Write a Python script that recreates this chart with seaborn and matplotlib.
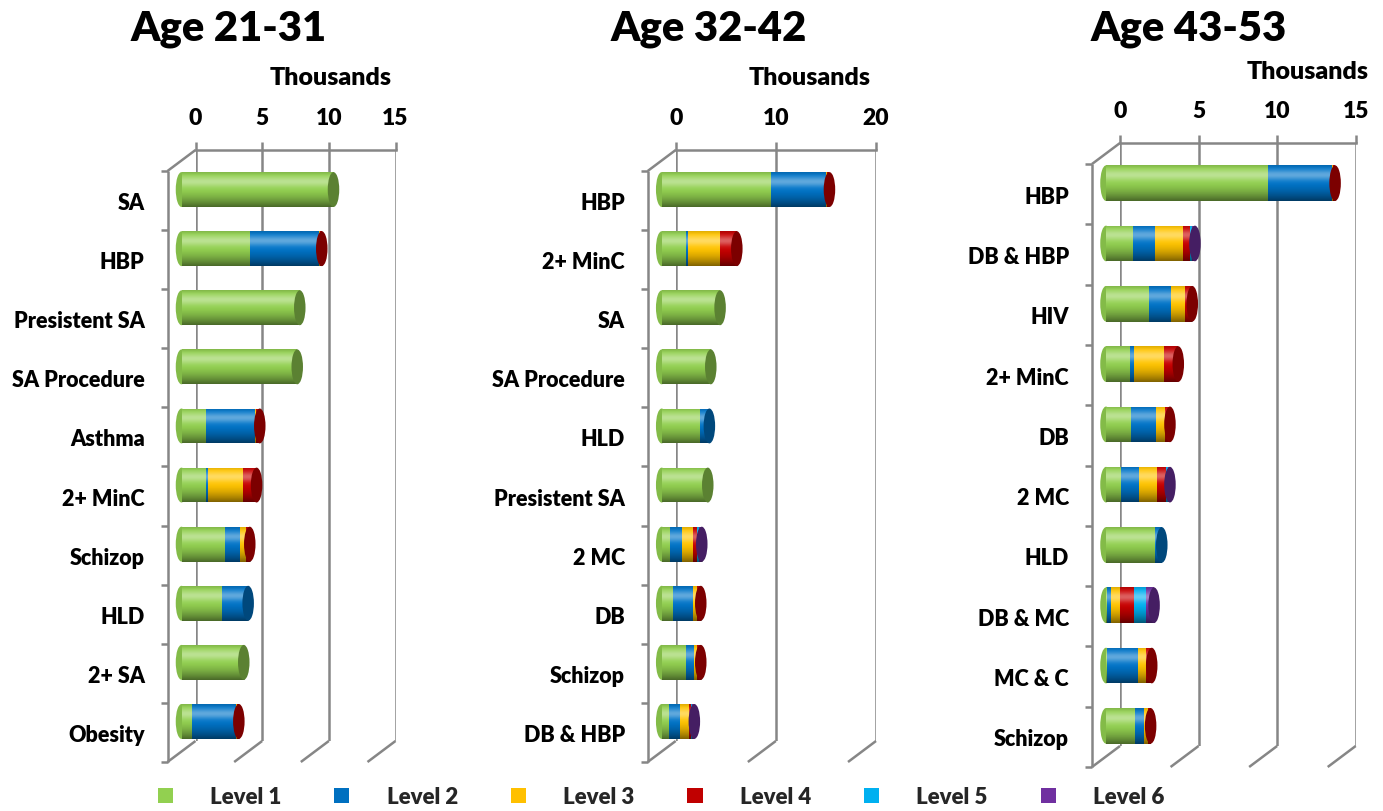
import numpy as np
import pandas as pd
import matplotlib
matplotlib.use("Agg")
import matplotlib.pyplot as plt
import seaborn as sns
from matplotlib.transforms import ScaledTranslation, IdentityTransform
from matplotlib.patches import Ellipse, Rectangle, Patch
from matplotlib.lines import Line2D
import matplotlib.colors as mcolors

# ---------------- data (thousands) ----------------
levels = ["Level 1", "Level 2", "Level 3", "Level 4", "Level 5", "Level 6"]
level_colors = ["#92D050", "#0074C8", "#FFC400", "#C80000", "#00B0F0", "#7030A0"]
titles = ["Age 21-31", "Age 32-42", "Age 43-53"]

cats_a = ["SA", "HBP", "Presistent SA", "SA Procedure", "Asthma", "2+ MinC",
          "Schizop", "HLD", "2+ SA", "Obesity"]
l1_a = [11.4, 5.13, 8.87, 8.68, 1.87, 1.87, 3.25, 3.0, 4.67, 0.75]
l2_a = [0, 5.17, 0, 0, 3.63, 0.13, 1.17, 2.0, 0, 3.33]
l3_a = [0, 0.12, 0, 0, 0.12, 2.63, 0.45, 0, 0, 0.05]
l4_a = [0, 0.10, 0, 0, 0.25, 1.0, 0.25, 0, 0, 0.17]
l5_a = [0, 0, 0, 0, 0, 0, 0, 0, 0, 0]
l6_a = [0, 0, 0, 0, 0, 0, 0, 0, 0, 0]

cats_b = ["HBP", "2+ MinC", "SA", "SA Procedure", "HLD", "Presistent SA",
          "2 MC", "DB", "Schizop", "DB & HBP"]
l1_b = [10.95, 2.4, 5.83, 4.9, 3.8, 4.6, 0.8, 1.13, 2.4, 0.73]
l2_b = [5.5, 0.26, 0, 0, 0.96, 0, 1.26, 2.0, 0.83, 1.13]
l3_b = [0.1, 3.2, 0, 0, 0, 0, 1.07, 0.43, 0.33, 0.84]
l4_b = [0.2, 1.64, 0, 0, 0, 0, 0.43, 0.34, 0.34, 0.2]
l5_b = [0, 0, 0, 0, 0, 0, 0.17, 0, 0, 0.13]
l6_b = [0, 0, 0, 0, 0, 0, 0.27, 0, 0, 0.23]

cats_c = ["HBP", "DB & HBP", "HIV", "2+ MinC", "DB", "2 MC", "HLD",
          "DB & MC", "MC & C", "Schizop"]
l1_c = [10.28, 1.73, 2.73, 1.52, 1.62, 0.98, 3.11, 0.08, 0.08, 1.84]
l2_c = [4.11, 1.38, 1.4, 0.25, 1.59, 1.11, 0.44, 0.23, 1.97, 0.59]
l3_c = [0.08, 1.76, 0.89, 1.93, 0.57, 1.18, 0, 0.61, 0.52, 0.25]
l4_c = [0.11, 0.47, 0.47, 0.9, 0.29, 0.58, 0, 0.85, 0.34, 0.16]
l5_c = [0, 0.14, 0, 0, 0, 0.11, 0, 0.8, 0, 0]
l6_c = [0, 0.18, 0, 0, 0, 0.11, 0, 0.49, 0, 0]

xticks_a = [0, 5, 10, 15]
xticks_b = [0, 10, 20]
xticks_c = [0, 5, 10, 15]

panels = [
    (cats_a, [l1_a, l2_a, l3_a, l4_a, l5_a, l6_a], xticks_a),
    (cats_b, [l1_b, l2_b, l3_b, l4_b, l5_b, l6_b], xticks_b),
    (cats_c, [l1_c, l2_c, l3_c, l4_c, l5_c, l6_c], xticks_c),
]

# ---------------- layout (pixels) ----------------
W, H = 1383, 812
DPI = 100
geom = [
    dict(x0=195.5, x1=395.5, top=151, bottom=742, tcx=229, thx=331, thy=85),
    dict(x0=675.7, x1=876.0, top=151, bottom=742, tcx=709, thx=810, thy=85),
    dict(x0=1120.0, x1=1355.7, top=144, bottom=747, tcx=1189, thx=1308, thy=79),
]
BAR_DX, BAR_DY = -14, -10      # bar plane offset (px, display y up)
FR_DX, FR_DY = -28, -21        # front plane offset
GRAY = "#868686"
LW = 1.8
BAR_H = 0.59
WEIGHT = "heavy"

sns.set_theme(style="white")
plt.rcParams["font.family"] = ["Lato", "DejaVu Sans"]
plt.rcParams["font.weight"] = WEIGHT

fig = plt.figure(figsize=(W / DPI, H / DPI), dpi=DPI)


def darker(c, f):
    r, g, b = mcolors.to_rgb(c)
    return (r * f, g * f, b * f)


# shading gradient (top -> bottom)
n = 64
t = np.linspace(0, 1, n)
wa = 0.38 * np.exp(-((t - 0.27) / 0.15) ** 2)
ba = 0.5 * np.clip((t - 0.45) / 0.55, 0, 1) ** 1.6 + 0.12 * np.clip((0.1 - t) / 0.1, 0, 1)
alpha = wa + ba - wa * ba
col = np.where(alpha > 0, wa / np.maximum(wa + ba, 1e-9), 0)
grad = np.zeros((n, 1, 4))
grad[:, 0, 0] = col
grad[:, 0, 1] = col
grad[:, 0, 2] = col
grad[:, 0, 3] = alpha

for pi, (cats, vals, xticks) in enumerate(panels):
    g = geom[pi]
    ax = fig.add_axes([g["x0"] / W, 1 - g["bottom"] / H,
                       (g["x1"] - g["x0"]) / W, (g["bottom"] - g["top"]) / H])
    xmax = xticks[-1]
    ncat = len(cats)
    px_per = (g["x1"] - g["x0"]) / xmax

    df = pd.DataFrame({"cat": cats})
    for lv, v in zip(levels, vals):
        df[lv] = v
    cum = df[levels].cumsum(axis=1)
    totals = cum[levels[-1]].values

    bar_tr = ax.transData + ScaledTranslation(BAR_DX / DPI, BAR_DY / DPI, fig.dpi_scale_trans)

    # left rounded ends
    cap_w = 11.5 / px_per
    for i in range(ncat):
        first = next(k for k in range(6) if vals[k][i] > 0)
        e = Ellipse((0, i), cap_w, BAR_H, facecolor=darker(level_colors[first], 0.9),
                    edgecolor="none", transform=bar_tr, zorder=2, clip_on=False)
        ax.add_patch(e)

    # stacked cylinders: draw cumulative sums from the last level down
    for k in reversed(range(6)):
        before = len(ax.patches)
        sns.barplot(x=cum[levels[k]].values, y=cats, orient="h", color=level_colors[k],
                    saturation=1, width=BAR_H, ax=ax, linewidth=0, edgecolor="none")
        for p in ax.patches[before:]:
            p.set_transform(bar_tr)
            p.set_clip_on(False)
            p.set_zorder(3)

    # shading + end caps
    for i in range(ncat):
        clip = Rectangle((0, i - BAR_H / 2), totals[i], BAR_H, transform=bar_tr,
                         facecolor="none", edgecolor="none")
        ax.add_patch(clip)
        im = ax.imshow(grad, extent=(0, totals[i], i + BAR_H / 2, i - BAR_H / 2),
                       aspect="auto", interpolation="bilinear", zorder=4)
        im.set_transform(bar_tr)
        im.set_clip_path(clip)
        last = max(k for k in range(6) if vals[k][i] > 0)
        cap = Ellipse((totals[i], i), cap_w, BAR_H,
                      facecolor=darker(level_colors[last], 0.62), edgecolor="none",
                      transform=bar_tr, zorder=5, clip_on=False)
        ax.add_patch(cap)

    ax.set_xlim(0, xmax)
    ax.set_ylim(ncat - 0.5, -0.5)
    ax.set_xlabel("")
    ax.set_ylabel("")

    # back wall: gridlines + top edge
    ax.set_xticks(xticks)
    ax.set_xticklabels([str(v) for v in xticks])
    ax.xaxis.tick_top()
    ax.grid(axis="x", color=GRAY, linewidth=LW)
    ax.grid(axis="y", visible=False)
    ax.set_axisbelow(True)
    for s in ["left", "right", "bottom"]:
        ax.spines[s].set_visible(False)
    ax.spines["top"].set_color(GRAY)
    ax.spines["top"].set_linewidth(LW)
    ax.tick_params(axis="x", length=6, width=LW, color=GRAY, pad=9.5,
                   labelsize=16.5, labelcolor="black")
    ax.set_facecolor("none")

    # category labels on the front plane
    ax.set_yticks(range(ncat))
    ax.set_yticklabels(cats)
    ax.tick_params(axis="y", length=0, pad=16.5, labelsize=15.5, labelcolor="black")
    for lbl in ax.get_yticklabels():
        lbl.set_fontweight(WEIGHT)
        lbl.set_transform(lbl.get_transform() +
                          ScaledTranslation(FR_DX / DPI, FR_DY / DPI, fig.dpi_scale_trans))
    for lbl in ax.get_xticklabels():
        lbl.set_fontweight(WEIGHT)

    # floor diagonals, left wall
    def disp(x, y):
        return ax.transData.transform((x, y))

    lines = []
    for v in range(0, xmax + 1, xticks[1] - xticks[0]):
        p = disp(v, ncat - 0.5)
        lines.append(([p[0], p[0] + FR_DX], [p[1], p[1] + FR_DY]))
    ptop = disp(0, -0.5)
    pbot = disp(0, ncat - 0.5)
    lines.append(([ptop[0], ptop[0] + FR_DX], [ptop[1], ptop[1] + FR_DY]))
    lines.append(([ptop[0] + FR_DX, pbot[0] + FR_DX], [ptop[1] + FR_DY, pbot[1] + FR_DY]))
    for i in range(ncat + 1):
        q = disp(0, i - 0.5)
        lines.append(([q[0] + FR_DX, q[0] + FR_DX - 7], [q[1] + FR_DY, q[1] + FR_DY]))
    for xs, ys in lines:
        fig.add_artist(Line2D(xs, ys, color=GRAY, linewidth=LW,
                              transform=IdentityTransform(), solid_capstyle="butt"))

    # titles
    fig.text(g["tcx"] / W, 1 - 41 / H, titles[pi], ha="center", va="baseline",
             fontsize=30, fontweight=WEIGHT, color="black")
    fig.text(g["thx"] / W, 1 - g["thy"] / H, "Thousands", ha="center", va="baseline",
             fontsize=18, fontweight=WEIGHT, color="black")

handles = [Patch(facecolor=c, edgecolor="none") for c in
           ["#92D050", "#0070C0", "#FFC000", "#C00000", "#00B0F0", "#7030A0"]]
fig.legend(handles, levels, loc="center", bbox_to_anchor=(661 / W, 1 - 798 / H),
           ncol=6, frameon=False, prop={"weight": WEIGHT, "size": 16},
           handlelength=0.68, handleheight=0.68, handletextpad=1.67, columnspacing=2.39,
           borderaxespad=0, borderpad=0)

fig.savefig("out.png", dpi=DPI, facecolor="white")
